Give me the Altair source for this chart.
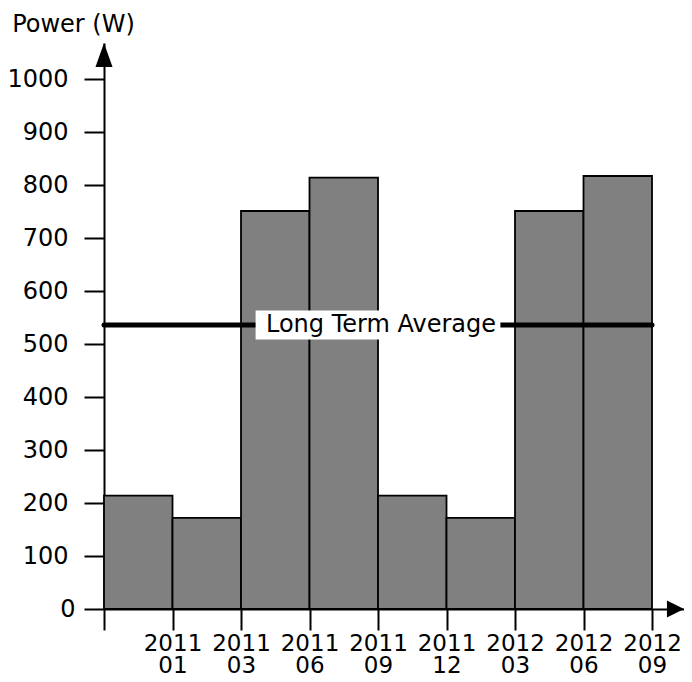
import altair as alt
import pandas as pd

# ---- data ----
bar_start = [0, 1, 2, 3, 4, 5, 6, 7]
bar_end = [1, 2, 3, 4, 5, 6, 7, 8]
power = [214, 172, 751, 814, 214, 172, 751, 817]
long_term_average = 536
tick_years = ["", "2011", "2011", "2011", "2011", "2011", "2012", "2012", "2012"]
tick_months = ["", "01", "03", "06", "09", "12", "03", "06", "09"]
y_ticks = [0, 100, 200, 300, 400, 500, 600, 700, 800, 900, 1000]
avg_label = "Long Term Average"
y_title = "Power (W)"

X_MAX = 8.467
Y_MAX = 1068
FONT = "DejaVu Sans"
FS = 24

bars_df = pd.DataFrame({"start": bar_start, "end": bar_end, "power": power})

label_arr = "[" + ",".join(f"['{y}','{m}']" for y, m in zip(tick_years, tick_months)) + "]"

xscale = alt.Scale(domain=[0, X_MAX], nice=False, zero=True)
yscale = alt.Scale(domain=[0, Y_MAX], nice=False, zero=True)

bars = alt.Chart(bars_df).mark_rect(
    fill="#808080", stroke="black", strokeWidth=1.8
).encode(
    x=alt.X("start:Q", scale=xscale, title=None, axis=alt.Axis(
        values=list(range(len(tick_years))),
        labelExpr=label_arr + "[round(datum.value)]",
        tickSize=21, tickWidth=2, tickColor="black",
        domainColor="black", domainWidth=2,
        labelFont=FONT, labelFontSize=23, labelColor="black",
        labelLineHeight=22, labelPadding=2, labelBaseline="top",
        labelAlign="center", labelFlush=False, labelOverlap=False,
        grid=False,
    )),
    x2="end:Q",
    y=alt.Y("power:Q", scale=yscale, title=y_title, axis=alt.Axis(
        values=y_ticks, format="d",
        tickSize=20, tickWidth=2, tickColor="black",
        domainColor="black", domainWidth=2,
        labelFont=FONT, labelFontSize=FS, labelColor="black",
        labelPadding={"condition": {"test": "datum.value == 0", "value": 9}, "value": 16},
        labelBaseline="middle",
        grid=False, titleAngle=0, titleAlign="center",
        titleBaseline="middle", titleX=-31, titleY=-19, titleFont=FONT,
        titleFontSize=FS, titleFontWeight="normal", titleColor="black",
    )),
    y2=alt.datum(0),
)

avg_df = pd.DataFrame({"x0": [bar_start[0]], "x1": [bar_end[-1]], "avg": [long_term_average],
                       "xm": [(bar_start[0] + bar_end[-1]) / 2], "label": [avg_label]})

avg_line = alt.Chart(avg_df).mark_rule(color="black", strokeWidth=5, strokeCap="round").encode(
    x=alt.X("x0:Q", scale=xscale, title=None),
    x2="x1:Q",
    y=alt.Y("avg:Q", scale=yscale, title=y_title),
)

label_box = alt.Chart(avg_df).mark_point(
    shape="M-10.2,-1.21L10.2,-1.21L10.2,1.21L-10.2,1.21Z",
    size=576, filled=True, fill="white", opacity=1, strokeWidth=0,
).encode(
    x=alt.X("xm:Q", scale=xscale, title=None),
    y=alt.Y("avg:Q", scale=yscale, title=y_title),
)

label_text = alt.Chart(avg_df).mark_text(
    font=FONT, fontSize=FS, color="black", align="center", baseline="middle", dx=3
).encode(
    x=alt.X("xm:Q", scale=xscale, title=None),
    y=alt.Y("avg:Q", scale=yscale, title=y_title),
    text="label:N",
)

arrows_df = pd.DataFrame({"ux": [0], "uy": [Y_MAX], "rx": [X_MAX], "ry": [0]})

arrow_up = alt.Chart(arrows_df).mark_point(
    shape="M0,0L0.71,2L-0.71,2Z", size=576, filled=True, color="black", opacity=1, strokeWidth=0,
).encode(
    x=alt.X("ux:Q", scale=xscale, title=None),
    y=alt.Y("uy:Q", scale=yscale, title=y_title),
)

arrow_right = alt.Chart(arrows_df).mark_point(
    shape="M0,0L-1.42,-0.71L-1.42,0.71Z", size=576, filled=True, color="black", opacity=1, strokeWidth=0,
).encode(
    x=alt.X("rx:Q", scale=xscale, title=None),
    y=alt.Y("ry:Q", scale=yscale, title=y_title),
)

chart = alt.layer(bars, avg_line, label_box, label_text, arrow_up, arrow_right).properties(
    width=580, height=566,
    autosize=alt.AutoSizeParams(type="none"),
    padding={"left": 96, "top": 35, "right": 0, "bottom": 65},
).configure_view(stroke=None)

chart.save("out.html", embed_options={"renderer": "svg", "actions": False})
